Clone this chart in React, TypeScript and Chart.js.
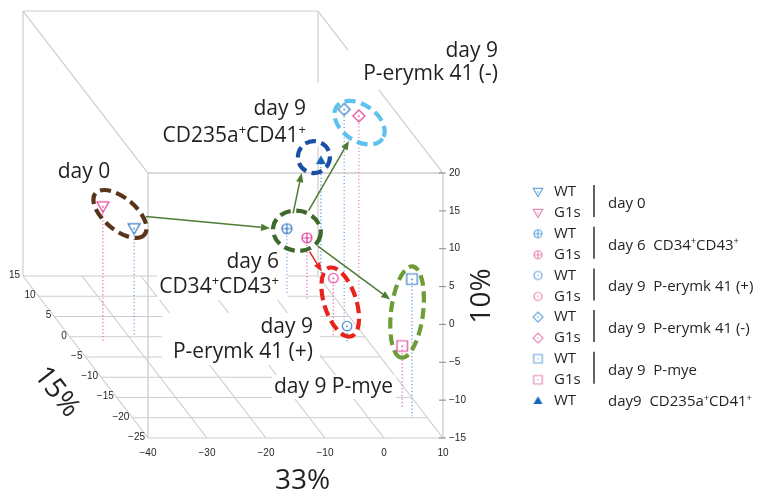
import React, { useEffect, useRef } from 'react';
import { Chart, registerables } from 'chart.js';

Chart.register(...registerables);

// ---------------- data (3D PCA coordinates) ----------------
const GROUPS = ['day 0', 'day 6 CD34+CD43+', 'day 9 P-erymk 41 (+)', 'day 9 P-erymk 41 (-)', 'day 9 P-mye'];
const WT_PC1 = [-28.9, 2.5, 6.3, 8.4, 7.6];
const WT_PC2 = [0.4, 10.8, -1.3, 3.6, -19.6];
const WT_PC3 = [-0.9, -6.5, -12.9, 13.1, 3.1];
const G1S_PC1 = [-35.2, 5.0, 4.6, 13.8, 7.0];
const G1S_PC2 = [-1.5, 9.1, -0.1, 9.1, -17.6];
const G1S_PC3 = [3.0, -6.8, -7.2, 9.3, -6.8];
const CD235_PC1 = [10.6];
const CD235_PC2 = [15.2];
const CD235_PC3 = [0.2];

const PC1_TICKS = [-40, -30, -20, -10, 0, 10];
const PC2_TICKS = [-25, -20, -15, -10, -5, 0, 5, 10, 15];
const PC3_TICKS = [-15, -10, -5, 0, 5, 10, 15, 20];
const AXIS_TITLES = ['33%', '15%', '10%'];

const LEGEND_GROUP_LABELS = ['day 0', 'day 6  CD34^+CD43^+', 'day 9  P-erymk 41 (+)', 'day 9  P-erymk 41 (-)', 'day 9  P-mye'];
const LEGEND_LAST_LABEL = 'day9  CD235a^+CD41^+';

// ---------------- projection / layout (styling) ----------------
const PX_PER_X = 5.9;
const PX_PER_Z = 7.571;
const DEPTH_DX = 3.125;
const DEPTH_DY = 4.05;
const KU = DEPTH_DX / PX_PER_X;
const KV = DEPTH_DY / PX_PER_Z;
const X0 = PC1_TICKS[0], X1 = PC1_TICKS[PC1_TICKS.length - 1];
const Y0 = PC2_TICKS[0], Y1 = PC2_TICKS[PC2_TICKS.length - 1];
const Z0 = PC3_TICKS[0], Z1 = PC3_TICKS[PC3_TICKS.length - 1];
const W = 758, H = 494;
const U_MIN = X0 - 148 / PX_PER_X;
const U_MAX = U_MIN + W / PX_PER_X;
const V_MIN = Z0 - (H - 438) / PX_PER_Z;
const V_MAX = V_MIN + H / PX_PER_Z;

function project(a: number, b: number, c: number) {
  const d = b - Y0;
  return { x: a - d * KU, y: c + d * KV };
}

const BLUE = '#3b7dc5';
const PINK = '#e3419a';
const BLUE_L = '#6aa7de';
const PINK_L = '#e68ab5';
const BLUE_FILL = '#1565b5';
const DROP_BLUE = '#5a97d8';
const DROP_PINK = '#e06aa8';
const GRID = '#cdcdcd';
const TEXT = '#231f20';
const GREEN_ARROW = '#4e7b34';
const RED = '#e8221c';
const FONT = '"Open Sans", "Noto Sans", sans-serif';
const TICK_FONT = '10px "Liberation Sans", Arial, sans-serif';

const MARKER_KINDS = ['triDown', 'cplus', 'circle', 'diamond', 'square'];

const ELLIPSES = [
  { color: '#5a3418', rx: 32, ry: 16, rot: 40, dx: 1.5, dy: -3.5 },
  { color: '#3d6a2c', rx: 24, ry: 20, rot: 10, dx: 0, dy: -2.5 },
  { color: RED, rx: 36, ry: 16, rot: 72, dx: 0, dy: 0 },
  { color: '#5ec2ee', rx: 28, ry: 18, rot: 35, dx: 8, dy: 10 },
  { color: '#6d9c38', rx: 46, ry: 16, rot: 97, dx: 0, dy: -0.5 },
  { color: '#1a4ea3', rx: 16, ry: 16, rot: 0, dx: -7, dy: -3 },
];

const ARROWS = [
  { from: 0, to: 1, color: GREEN_ARROW, s: [0, 0], e: [0, 0] },
  { from: 1, to: 5, color: GREEN_ARROW, s: [-9, 5], e: [-8, -2.5] },
  { from: 1, to: 3, color: GREEN_ARROW, s: [0, 0], e: [0, 0] },
  { from: 1, to: 4, color: GREEN_ARROW, s: [0, 0], e: [0, 0] },
  { from: 1, to: 2, color: RED, s: [0, 0], e: [0, 0] },
];

const LABELS = [
  { lines: ['day 0'], x: 84, align: 'center', base: [178], pad: [3, 3, 20, 6] },
  { lines: ['day 9', 'CD235a^+CD41^+'], x: 306, align: 'right', base: [115, 142], pad: [4, 13, 32, 5] },
  { lines: ['day 9', 'P-erymk 41 (-)'], x: 498, align: 'right', base: [57, 80], pad: [15, 6, 20, 10] },
  { lines: ['day 6', 'CD34^+CD43^+'], x: 279, align: 'right', base: [268, 293], pad: [2, 9, 20, 7] },
  { lines: ['day 9', 'P-erymk 41 (+)'], x: 313, align: 'right', base: [333, 358], pad: [11, 7, 20, 7] },
  { lines: ['day 9 P-mye'], x: 393, align: 'right', base: [393], pad: [2, 3, 18, 6] },
];

// ---------------- helpers ----------------
function makeMarker(kind: string, color: string, size: number): HTMLCanvasElement {
  const S = Math.ceil(size + 6);
  const c = document.createElement('canvas');
  c.width = S;
  c.height = S;
  const g = c.getContext('2d') as CanvasRenderingContext2D;
  const m = S / 2;
  const r = size / 2;
  g.strokeStyle = color;
  g.fillStyle = color;
  g.lineWidth = 1.2;
  const dot = () => {
    g.beginPath();
    g.arc(m, m, 0.8, 0, Math.PI * 2);
    g.fill();
  };
  g.beginPath();
  if (kind === 'triDown') {
    g.moveTo(m - r, m - r * 0.78);
    g.lineTo(m + r, m - r * 0.78);
    g.lineTo(m, m + r * 0.95);
    g.closePath();
    g.stroke();
    dot();
  } else if (kind === 'triUpFilled') {
    g.moveTo(m - r, m + r * 0.8);
    g.lineTo(m + r, m + r * 0.8);
    g.lineTo(m, m - r * 0.95);
    g.closePath();
    g.fill();
  } else if (kind === 'cplus') {
    g.arc(m, m, r, 0, Math.PI * 2);
    g.moveTo(m - r, m);
    g.lineTo(m + r, m);
    g.moveTo(m, m - r);
    g.lineTo(m, m + r);
    g.stroke();
  } else if (kind === 'circle') {
    g.arc(m, m, r, 0, Math.PI * 2);
    g.stroke();
    dot();
  } else if (kind === 'diamond') {
    g.moveTo(m, m - r);
    g.lineTo(m + r, m);
    g.lineTo(m, m + r);
    g.lineTo(m - r, m);
    g.closePath();
    g.stroke();
    dot();
  } else if (kind === 'square') {
    g.rect(m - r, m - r, size, size);
    g.stroke();
    dot();
  }
  return c;
}

const MAIN_SIZES: Record<string, number> = { triDown: 12, cplus: 10, circle: 9.5, diamond: 12, square: 10.5, triUpFilled: 10 };
const LEG_SIZES: Record<string, number> = { triDown: 9.5, cplus: 8, circle: 8, diamond: 10, square: 8.5, triUpFilled: 9 };

function parseRich(s: string) {
  const segs: { t: string; sup: boolean }[] = [];
  let cur = '';
  for (let i = 0; i < s.length; i++) {
    if (s[i] === '^' && i + 1 < s.length) {
      if (cur) segs.push({ t: cur, sup: false });
      cur = '';
      segs.push({ t: s[i + 1], sup: true });
      i++;
    } else cur += s[i];
  }
  if (cur) segs.push({ t: cur, sup: false });
  return segs;
}

function richWidth(ctx: CanvasRenderingContext2D, s: string, size: number) {
  let w = 0;
  for (const seg of parseRich(s)) {
    ctx.font = `${seg.sup ? size * 0.62 : size}px ${FONT}`;
    w += ctx.measureText(seg.t).width;
  }
  return w;
}

function drawRich(ctx: CanvasRenderingContext2D, s: string, x: number, y: number, size: number, align: string) {
  const w = richWidth(ctx, s, size);
  let cx = align === 'right' ? x - w : align === 'center' ? x - w / 2 : x;
  ctx.textAlign = 'left';
  ctx.textBaseline = 'alphabetic';
  for (const seg of parseRich(s)) {
    ctx.font = `${seg.sup ? size * 0.62 : size}px ${FONT}`;
    ctx.fillText(seg.t, cx, seg.sup ? y - size * 0.36 : y);
    cx += ctx.measureText(seg.t).width;
  }
}

function fmt(n: number) {
  return n < 0 ? '\u2212' + Math.abs(n) : String(n);
}

// ---------------- plugin ----------------
const box3dPlugin = {
  id: 'box3d',
  beforeDatasetsDraw(chart: any) {
    const ctx: CanvasRenderingContext2D = chart.ctx;
    const sx = chart.scales.x;
    const sy = chart.scales.y;
    const P = (a: number, b: number, c: number) => {
      const p = project(a, b, c);
      return [sx.getPixelForValue(p.x), sy.getPixelForValue(p.y)];
    };
    const line = (p: number[], q: number[]) => {
      ctx.beginPath();
      ctx.moveTo(p[0], p[1]);
      ctx.lineTo(q[0], q[1]);
      ctx.stroke();
    };
    ctx.save();
    // grid / box
    ctx.strokeStyle = GRID;
    ctx.lineWidth = 1.2;
    for (const b of PC2_TICKS) line(P(X0, b, Z0), P(X1, b, Z0));
    for (const a of PC1_TICKS) line(P(a, Y0, Z0), P(a, Y1, Z0));
    line(P(X0, Y1, Z0), P(X0, Y1, Z1));
    line(P(X1, Y1, Z0), P(X1, Y1, Z1));
    line(P(X0, Y1, Z1), P(X1, Y1, Z1));
    line(P(X0, Y1, Z1), P(X0, Y0, Z1));
    line(P(X1, Y1, Z1), P(X1, Y0, Z1));
    ctx.lineWidth = 1.6;
    line(P(X0, Y0, Z1), P(X1, Y0, Z1));
    ctx.lineWidth = 1.3;
    line(P(X0, Y0, Z0), P(X0, Y0, Z1));
    line(P(X1, Y0, Z0), P(X1, Y0, Z1));

    // ticks and tick labels
    ctx.fillStyle = TEXT;
    ctx.font = TICK_FONT;
    ctx.strokeStyle = '#8a8a8a';
    ctx.lineWidth = 1;
    ctx.textAlign = 'left';
    ctx.textBaseline = 'middle';
    for (const c of PC3_TICKS) {
      const p = P(X1, Y0, c);
      line([p[0] - 4, p[1]], [p[0] + 3, p[1]]);
      ctx.fillText(fmt(c), p[0] + 6, p[1]);
    }
    ctx.textAlign = 'center';
    for (const a of PC1_TICKS) {
      const p = P(a, Y0, Z0);
      ctx.fillText(fmt(a), p[0], p[1] + 15);
    }
    ctx.textAlign = 'right';
    for (const b of PC2_TICKS) {
      const p = P(X0, b, Z0);
      ctx.fillText(fmt(b), p[0] - 3, p[1] - 1);
    }

    // axis titles
    ctx.font = `28px ${FONT}`;
    ctx.textAlign = 'center';
    ctx.textBaseline = 'middle';
    {
      const p = P((X0 + X1) / 2, Y0, Z0);
      ctx.fillText(AXIS_TITLES[0], p[0] + 7, p[1] + 43);
      const q = P(X0, -5, Z0);
      ctx.save();
      ctx.translate(q[0] - 29, q[1] + 35);
      ctx.rotate((52 * Math.PI) / 180);
      ctx.fillText(AXIS_TITLES[1], 0, 0);
      ctx.restore();
      const r = P(X1, Y0, (Z0 + Z1) / 2 + 1.25);
      ctx.save();
      ctx.translate(r[0] + 39, r[1]);
      ctx.rotate(-Math.PI / 2);
      ctx.fillText(AXIS_TITLES[2], 0, 0);
      ctx.restore();
    }

    // labels with white boxes
    const LS = 21;
    for (const L of LABELS) {
      let minL = Infinity, maxR = -Infinity;
      for (const s of L.lines) {
        const w = richWidth(ctx, s, LS);
        const left = L.align === 'right' ? L.x - w : L.x - w / 2;
        minL = Math.min(minL, left);
        maxR = Math.max(maxR, left + w);
      }
      const top = L.base[0] - L.pad[2];
      const bot = L.base[L.base.length - 1] + L.pad[3];
      ctx.fillStyle = '#ffffff';
      ctx.fillRect(minL - L.pad[0], top, maxR - minL + L.pad[0] + L.pad[1], bot - top);
      ctx.fillStyle = TEXT;
      L.lines.forEach((s, i) => drawRich(ctx, s, L.x, L.base[i], LS, L.align));
    }

    // drop lines
    ctx.lineWidth = 1.2;
    ctx.setLineDash([1.2, 2.3]);
    const drops = (xs: number[], ys: number[], zs: number[], col: string) => {
      ctx.strokeStyle = col;
      xs.forEach((_, i) => line(P(xs[i], ys[i], zs[i]), P(xs[i], ys[i], Z0)));
    };
    drops(WT_PC1, WT_PC2, WT_PC3, DROP_BLUE);
    drops(G1S_PC1, G1S_PC2, G1S_PC3, DROP_PINK);
    drops(CD235_PC1, CD235_PC2, CD235_PC3, DROP_BLUE);
    ctx.setLineDash([]);

    // ellipse centres
    const centers: number[][] = [];
    GROUPS.forEach((_, i) => {
      const a = P(WT_PC1[i], WT_PC2[i], WT_PC3[i]);
      const b = P(G1S_PC1[i], G1S_PC2[i], G1S_PC3[i]);
      centers.push([(a[0] + b[0]) / 2 + ELLIPSES[i].dx, (a[1] + b[1]) / 2 + ELLIPSES[i].dy]);
    });
    {
      const c = P(CD235_PC1[0], CD235_PC2[0], CD235_PC3[0]);
      centers.push([c[0] + ELLIPSES[5].dx, c[1] + ELLIPSES[5].dy]);
    }
    ctx.lineWidth = 4.2;
    ctx.setLineDash([11, 5.5]);
    ELLIPSES.forEach((e, i) => {
      ctx.strokeStyle = e.color;
      ctx.beginPath();
      ctx.ellipse(centers[i][0], centers[i][1], e.rx, e.ry, (e.rot * Math.PI) / 180, 0, Math.PI * 2);
      ctx.stroke();
    });
    ctx.setLineDash([]);

    // arrows
    const rad = (e: any, th: number) => {
      const phi = th - (e.rot * Math.PI) / 180;
      return 1 / Math.sqrt(Math.pow(Math.cos(phi) / e.rx, 2) + Math.pow(Math.sin(phi) / e.ry, 2));
    };
    for (const A of ARROWS) {
      const ca = centers[A.from], cb = centers[A.to];
      const dx = cb[0] - ca[0], dy = cb[1] - ca[1];
      const len = Math.hypot(dx, dy);
      const ux = dx / len, uy = dy / len;
      const th = Math.atan2(dy, dx);
      const ra = rad(ELLIPSES[A.from], th) + 3;
      const rb = rad(ELLIPSES[A.to], th) + 3;
      const s = [ca[0] + ux * ra + A.s[0], ca[1] + uy * ra + A.s[1]];
      const t = [cb[0] - ux * rb + A.e[0], cb[1] - uy * rb + A.e[1]];
      const ang = Math.atan2(t[1] - s[1], t[0] - s[0]);
      ctx.strokeStyle = A.color;
      ctx.fillStyle = A.color;
      ctx.lineWidth = 1.5;
      const hl = 9, hw = 3.6;
      const bx = t[0] - Math.cos(ang) * hl, by = t[1] - Math.sin(ang) * hl;
      line(s, [bx, by]);
      ctx.beginPath();
      ctx.moveTo(t[0], t[1]);
      ctx.lineTo(bx - Math.sin(ang) * hw, by + Math.cos(ang) * hw);
      ctx.lineTo(bx + Math.sin(ang) * hw, by - Math.cos(ang) * hw);
      ctx.closePath();
      ctx.fill();
    }
    ctx.restore();
  },
  afterDatasetsDraw(chart: any) {
    const ctx: CanvasRenderingContext2D = chart.ctx;
    ctx.save();
    const mx = 538, tx = 554, y0 = 192, pair = 41.7, inner = 21, barX = 594, lx = 608;
    ctx.fillStyle = TEXT;
    ctx.strokeStyle = TEXT;
    GROUPS.forEach((_, k) => {
      const yw = y0 + k * pair;
      const yg = yw + inner;
      const kind = MARKER_KINDS[k];
      const mb = makeMarker(kind, BLUE_L, LEG_SIZES[kind]);
      const mp = makeMarker(kind, PINK_L, LEG_SIZES[kind]);
      ctx.drawImage(mb, mx - mb.width / 2, yw - mb.height / 2);
      ctx.drawImage(mp, mx - mp.width / 2, yg - mp.height / 2);
      ctx.font = `15px ${FONT}`;
      ctx.textAlign = 'left';
      ctx.textBaseline = 'middle';
      ctx.fillText('WT', tx, yw);
      ctx.fillText('G1s', tx, yg);
      ctx.lineWidth = 1.4;
      ctx.beginPath();
      ctx.moveTo(barX, yw - 7);
      ctx.lineTo(barX, yg + 4);
      ctx.stroke();
      drawRich(ctx, LEGEND_GROUP_LABELS[k], lx, (yw + yg) / 2 + 5.5, 15, 'left');
    });
    const yl = y0 + GROUPS.length * pair;
    const mt = makeMarker('triUpFilled', BLUE_FILL, LEG_SIZES.triUpFilled);
    ctx.drawImage(mt, mx - mt.width / 2, yl - mt.height / 2);
    ctx.font = `15px ${FONT}`;
    ctx.textAlign = 'left';
    ctx.textBaseline = 'middle';
    ctx.fillText('WT', tx, yl);
    drawRich(ctx, LEGEND_LAST_LABEL, lx, yl + 5.5, 15, 'left');
    ctx.restore();
  },
};

export default function App() {
  const ref = useRef<HTMLCanvasElement | null>(null);
  useEffect(() => {
    if (!ref.current) return;
    const wtData = WT_PC1.map((_, i) => project(WT_PC1[i], WT_PC2[i], WT_PC3[i]));
    const g1Data = G1S_PC1.map((_, i) => project(G1S_PC1[i], G1S_PC2[i], G1S_PC3[i]));
    const cdData = CD235_PC1.map((_, i) => project(CD235_PC1[i], CD235_PC2[i], CD235_PC3[i]));
    const chart = new Chart(ref.current, {
      type: 'scatter',
      data: {
        datasets: [
          {
            label: 'WT',
            data: wtData,
            pointStyle: MARKER_KINDS.map((k) => makeMarker(k, BLUE, MAIN_SIZES[k])) as any,
            pointRadius: 5,
          },
          {
            label: 'G1s',
            data: g1Data,
            pointStyle: MARKER_KINDS.map((k) => makeMarker(k, PINK, MAIN_SIZES[k])) as any,
            pointRadius: 5,
          },
          {
            label: 'WT day9 CD235a+CD41+',
            data: cdData,
            pointStyle: [makeMarker('triUpFilled', BLUE_FILL, MAIN_SIZES.triUpFilled)] as any,
            pointRadius: 5,
          },
        ],
      },
      options: {
        responsive: false,
        animation: false,
        events: [],
        layout: { padding: 0, autoPadding: false },
        plugins: { legend: { display: false }, tooltip: { enabled: false }, title: { display: false } },
        scales: {
          x: { type: 'linear', min: U_MIN, max: U_MAX, display: false },
          y: { type: 'linear', min: V_MIN, max: V_MAX, display: false },
        },
      } as any,
      plugins: [box3dPlugin],
    });
    return () => chart.destroy();
  }, []);
  return (
    <div style={{ position: 'absolute', left: 0, top: 0, width: W, height: H, background: '#fff' }}>
      <canvas ref={ref} width={W} height={H} style={{ display: 'block' }} />
    </div>
  );
}
